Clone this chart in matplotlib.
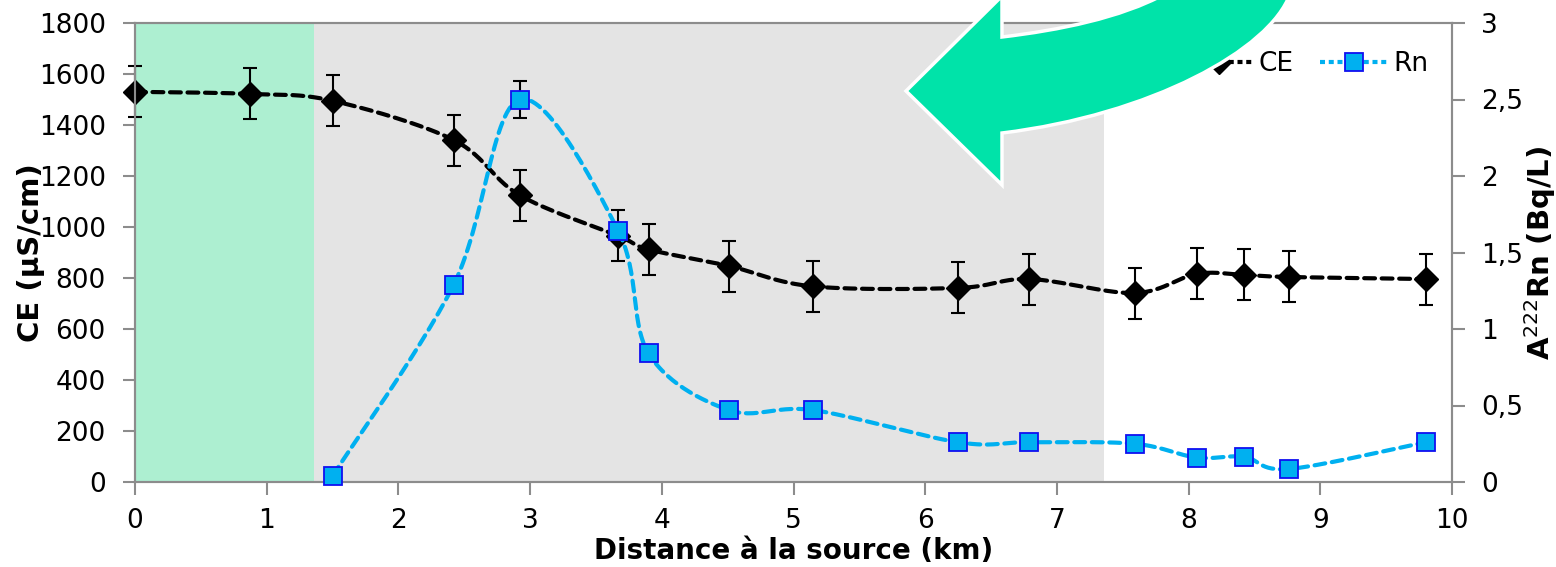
import numpy as np
import matplotlib
matplotlib.use("Agg")
import matplotlib.pyplot as plt
from matplotlib.path import Path
from matplotlib.patches import PathPatch
from matplotlib.ticker import FixedLocator, FuncFormatter

# distance to the source (km)
dist_ce = [0.0, 0.87, 1.50, 2.42, 2.92, 3.67, 3.90, 4.51, 5.15, 6.25, 6.79, 7.59, 8.06, 8.42, 8.76, 9.80]
ce = [1530, 1522, 1495, 1341, 1125, 965, 912, 847, 767, 761, 796, 741, 816, 812, 804, 796]
ce_err = [100] * len(ce)

dist_rn = [1.50, 2.42, 2.92, 3.67, 3.90, 4.51, 5.15, 6.25, 6.79, 7.59, 8.06, 8.42, 8.76, 9.80]
rn = [0.04, 1.29, 2.50, 1.64, 0.84, 0.47, 0.47, 0.26, 0.26, 0.25, 0.16, 0.165, 0.085, 0.26]
rn_err = [0, 0, 0.12, 0, 0, 0, 0, 0, 0, 0, 0, 0, 0, 0]

green_zone = (0.0, 1.36)
grey_zone = (1.36, 7.36)

W, H = 1556, 567


def smooth(x, y, n=30):
    # excel-like smoothed line (catmull-rom bezier)
    x = np.asarray(x, float)
    y = np.asarray(y, float)
    P = np.column_stack([x, y])
    out = []
    for i in range(len(P) - 1):
        p0 = P[i - 1] if i > 0 else P[i]
        p1 = P[i]
        p2 = P[i + 1]
        p3 = P[i + 2] if i + 2 < len(P) else P[i + 1]
        c1 = p1 + (p2 - p0) / 6
        c2 = p2 - (p3 - p1) / 6
        t = np.linspace(0, 1, n)[:, None]
        seg = ((1 - t) ** 3) * p1 + 3 * ((1 - t) ** 2) * t * c1 + 3 * (1 - t) * t ** 2 * c2 + t ** 3 * p2
        out.append(seg if i == 0 else seg[1:])
    out = np.vstack(out)
    return out[:, 0], out[:, 1]


fig = plt.figure(figsize=(W / 100, H / 100), dpi=100)
ax = fig.add_axes([135 / W, 1 - 482 / H, (1452 - 135) / W, (482 - 23) / H])
ax2 = ax.twinx()

ax.axvspan(*green_zone, color="#ADEFD1", lw=0, zorder=0)
ax.axvspan(*grey_zone, color="#E4E4E4", lw=0, zorder=0)

sx, sy = smooth(dist_ce, ce)
ax.plot(sx, sy, color="black", lw=3, dashes=(2.6, 1.6), dash_capstyle="round", zorder=2)
eb = ax.errorbar(dist_ce, ce, yerr=ce_err, fmt="none", ecolor="black", elinewidth=1.5,
                 capsize=5, capthick=1.5, zorder=3)
for art in eb.lines[1] + eb.lines[2]:
    art.set_clip_on(False)
ax.plot(dist_ce, ce, ls="none", marker="D", ms=12.5, color="black", zorder=4, clip_on=False)

rx, ry = smooth(dist_rn, rn)
ax2.plot(rx, ry, color="#00B0F0", lw=3, dashes=(2.6, 1.6), dash_capstyle="round", zorder=2)
ax2.errorbar(dist_rn, rn, yerr=rn_err, fmt="none", ecolor="black", elinewidth=1.5,
             capsize=5, capthick=1.5, zorder=3)
ax2.plot(dist_rn, rn, ls="none", marker="s", ms=13.5, mfc="#00B0F0", mec="#1010F0",
         mew=1.3, zorder=4, clip_on=False)

# legend proxies
h_ce, = ax2.plot([], [], color="black", lw=3, dashes=(1.2, 0.9), marker="D", ms=12.5)
h_rn, = ax2.plot([], [], color="#00B0F0", lw=3, dashes=(1.2, 0.9), marker="s", ms=13.5,
                 mfc="#00B0F0", mec="#1010F0", mew=1.3)
leg = ax2.legend([h_ce, h_rn], ["CE", "Rn"], ncol=2, frameon=False, fontsize=19,
                 loc="upper right", bbox_to_anchor=((1442 - 135) / 1317, 1 - (38 - 23) / 459),
                 handlelength=2.6, handletextpad=0.2, columnspacing=1.0, borderpad=0)
leg.set_zorder(5)

ax.set_xlim(0, 10)
ax.set_ylim(0, 1800)
ax2.set_ylim(0, 3)
ax.set_xticks(range(0, 11))
ax.set_yticks(range(0, 1801, 200))
ax2.yaxis.set_major_locator(FixedLocator([0, 0.5, 1, 1.5, 2, 2.5, 3]))
ax2.yaxis.set_major_formatter(FuncFormatter(lambda v, p: ("%g" % v).replace(".", ",")))

for a in (ax, ax2):
    for s in a.spines.values():
        s.set_color("#8C8C8C")
        s.set_linewidth(1.5)
    a.tick_params(colors="#8C8C8C", labelcolor="black", labelsize=19, length=9, width=1.5,
                  direction="out", pad=12)
ax.tick_params(axis="x", pad=10)
ax2.patch.set_visible(False)

ax.set_xlabel("Distance à la source (km)", fontsize=20, fontweight="bold")
ax.xaxis.set_label_coords(0.5, -0.12)
ax.set_ylabel("CE (µS/cm)", fontsize=21, fontweight="bold")
ax.yaxis.set_label_coords(-0.068, 0.5)
ax2.set_ylabel("A$^{222}$Rn (Bq/L)", fontsize=21, fontweight="bold")
ax2.yaxis.set_label_coords(1.053, 0.5)

# big green arrow drawn over the chart (pixel coords, y down)
pts = [(906, 91), (1002, -4), (1002, 37),
       (1060, 30), (1120, 18), (1165, -6),
       (1290, -6),
       (1270, 50), (1150, 115), (1002, 133),
       (1002, 185), (906, 91)]
codes = [Path.MOVETO, Path.LINETO, Path.LINETO,
         Path.CURVE4, Path.CURVE4, Path.CURVE4,
         Path.LINETO,
         Path.CURVE4, Path.CURVE4, Path.CURVE4,
         Path.LINETO, Path.CLOSEPOLY]
verts = [(px / W, 1 - py / H) for px, py in pts]
arrow = PathPatch(Path(verts, codes), facecolor="#00E3A9", edgecolor="white", lw=2.5,
                  transform=fig.transFigure, zorder=10)
fig.patches.append(arrow)

fig.savefig("out.png", dpi=100)
